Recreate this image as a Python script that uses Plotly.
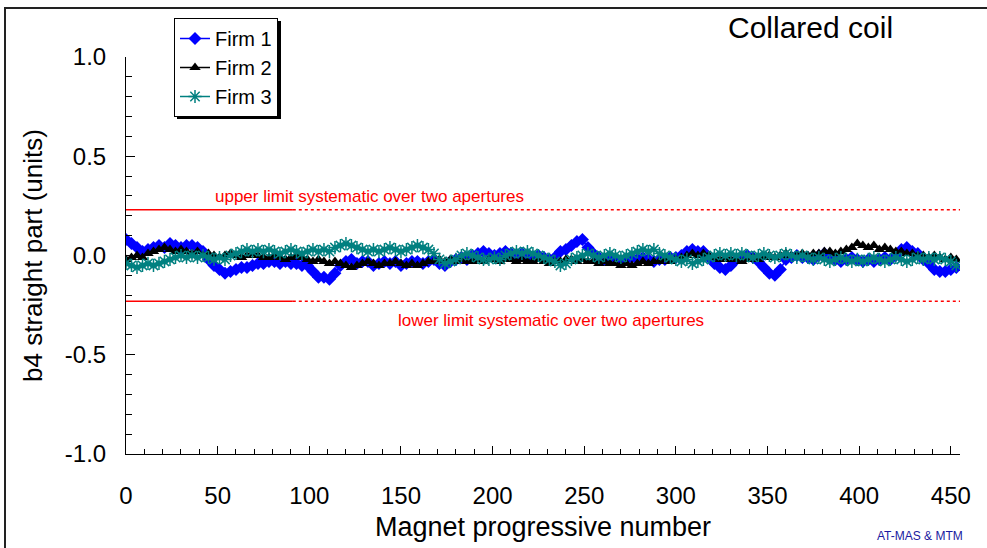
import plotly.graph_objects as go

# ---------------- data ----------------
step = 3
firm1 = [0.08, 0.06, 0.04, 0.02, 0.03, 0.04, 0.05, 0.04, 0.06, 0.05, 0.04, 0.05, 0.05, 0.04, 0.02,
         -0.02, -0.05, -0.07, -0.09, -0.08, -0.07, -0.06, -0.06, -0.05, -0.04, -0.04, -0.03, -0.03,
         -0.04, -0.03, -0.04, -0.04, -0.05, -0.05, -0.08, -0.11, -0.11, -0.12, -0.09, -0.05, -0.03,
         -0.02, -0.04, -0.03, -0.03, -0.05, -0.04, -0.03, -0.04, -0.03, -0.05, -0.04, -0.03, -0.03,
         -0.04, -0.03, -0.02, -0.04, -0.05, -0.03, -0.02, -0.01, -0.02, 0.0, 0.01, 0.02, 0.01, 0.0,
         0.01, 0.02, 0.01, 0.0, 0.01, 0.0, -0.01, 0.0, -0.01, -0.02, -0.01, 0.02, 0.03, 0.05, 0.07,
         0.08, 0.04, 0.01, -0.01, -0.02, -0.01, -0.02, -0.03, -0.02, -0.01, -0.02, -0.01, -0.02,
         -0.03, -0.02, -0.02, -0.01, -0.01, 0.0, 0.02, 0.03, 0.02, 0.02, -0.01, -0.04, -0.06, -0.07,
         -0.05, -0.02, -0.01, 0.0, -0.01, -0.03, -0.06, -0.09, -0.1, -0.07, -0.02, -0.01, 0.0, -0.01,
         -0.01, -0.02, 0.0, 0.01, -0.01, -0.02, -0.03, -0.02, -0.01, -0.02, -0.03, -0.02, -0.03,
         -0.02, -0.01, -0.02, 0.0, 0.03, 0.04, 0.02, 0.01, -0.02, -0.04, -0.07, -0.08, -0.08, -0.07,
         -0.06]
firm2 = [-0.02, -0.01, 0.0, -0.01, 0.01, 0.02, 0.03, 0.04, 0.03, 0.02, 0.03, 0.02, 0.01, 0.02, 0.0,
         0.01, 0.0, -0.01, 0.0, 0.01, 0.0, -0.01, 0.0, 0.01, 0.0, -0.01, -0.01, 0.0, -0.01, -0.02,
         -0.01, 0.0, -0.01, -0.02, -0.03, -0.02, -0.03, -0.04, -0.03, -0.04, -0.05, -0.06, -0.05,
         -0.04, -0.03, -0.04, -0.05, -0.04, -0.04, -0.03, -0.04, -0.05, -0.04, -0.05, -0.04, -0.03,
         -0.03, -0.02, -0.03, -0.02, -0.03, -0.02, -0.03, -0.03, -0.02, -0.03, -0.02, -0.02, -0.03,
         -0.02, -0.02, -0.03, -0.02, -0.03, -0.03, -0.02, -0.03, -0.04, -0.03, -0.03, -0.02, -0.02,
         -0.03, -0.02, -0.03, -0.03, -0.04, -0.03, -0.04, -0.04, -0.05, -0.04, -0.05, -0.04, -0.03,
         -0.04, -0.03, -0.03, -0.02, -0.03, -0.02, -0.01, 0.0, 0.01, 0.0, 0.01, 0.0, -0.01, -0.02,
         -0.01, -0.02, -0.02, -0.03, -0.02, -0.01, -0.02, -0.01, 0.0, -0.01, 0.0, 0.01, 0.0, 0.0,
         0.01, 0.0, 0.01, 0.01, 0.02, 0.02, 0.01, 0.02, 0.03, 0.04, 0.06, 0.05, 0.04, 0.05, 0.03,
         0.04, 0.03, 0.02, 0.02, 0.01, 0.01, 0.0, 0.0, -0.01, 0.0, -0.01, -0.02, -0.01, -0.02]
firm3 = [-0.04, -0.05, -0.06, -0.05, -0.04, -0.05, -0.04, -0.03, -0.02, -0.01, 0.0, -0.01, 0.0,
         -0.01, 0.0, -0.01, -0.02, -0.01, -0.02, 0.0, 0.01, 0.02, 0.03, 0.02, 0.03, 0.02, 0.03, 0.02,
         0.01, 0.02, 0.03, 0.02, 0.01, 0.02, 0.03, 0.02, 0.03, 0.02, 0.04, 0.05, 0.06, 0.05, 0.04,
         0.03, 0.02, 0.03, 0.02, 0.03, 0.04, 0.03, 0.02, 0.03, 0.04, 0.05, 0.04, 0.03, 0.01, -0.02,
         -0.04, -0.03, -0.02, 0.0, 0.01, 0.0, -0.01, -0.02, -0.02, -0.01, -0.02, 0.0, 0.01, 0.02,
         0.01, 0.02, 0.01, 0.0, -0.01, -0.02, -0.03, -0.05, -0.04, -0.02, -0.01, 0.0, 0.01, 0.0,
         -0.01, 0.0, 0.01, 0.0, -0.01, 0.0, 0.01, 0.02, 0.03, 0.02, 0.03, 0.01, 0.0, -0.01, -0.02,
         -0.03, -0.02, -0.04, -0.03, -0.02, -0.01, 0.0, 0.01, 0.0, 0.01, 0.0, 0.01, 0.0, -0.01, 0.0,
         0.01, 0.0, -0.01, 0.0, 0.01, 0.0, -0.01, 0.0, -0.01, -0.02, -0.01, -0.02, -0.03, -0.02,
         -0.01, -0.02, -0.03, -0.02, -0.03, -0.02, -0.01, -0.02, -0.03, -0.02, -0.01, -0.02, -0.03,
         -0.02, -0.01, -0.02, -0.01, -0.02, -0.01, -0.02, -0.03, -0.05]

upper_limit = 0.23
lower_limit = -0.23
limit_solid_end = 91
x_max = 455

x_ticks = [0, 50, 100, 150, 200, 250, 300, 350, 400, 450]
y_ticks = [-1.0, -0.5, 0.0, 0.5, 1.0]
y_tick_text = ["-1.0", "-0.5", "0.0", "0.5", "1.0"]

FONT = "Arial, Liberation Sans, sans-serif"

fig = go.Figure()


def mags(vals):
    return [step * i for i in range(len(vals))]


# limit lines
for lim in (upper_limit, lower_limit):
    fig.add_trace(go.Scatter(x=[0, limit_solid_end], y=[lim, lim], mode="lines",
                             line=dict(color="#ff0000", width=1.5), showlegend=False,
                             hoverinfo="skip"))
    fig.add_trace(go.Scatter(x=[limit_solid_end, x_max], y=[lim, lim], mode="lines",
                             line=dict(color="#ff0000", width=1.5, dash="dot"), showlegend=False,
                             hoverinfo="skip"))

fig.add_trace(go.Scatter(x=mags(firm1), y=firm1, name="Firm 1", mode="lines+markers",
                         line=dict(color="#0000ff", width=1.5),
                         marker=dict(symbol="diamond", size=10, color="#0000ff")))
fig.add_trace(go.Scatter(x=mags(firm2), y=firm2, name="Firm 2", mode="lines+markers",
                         line=dict(color="#000000", width=1.5),
                         marker=dict(symbol="triangle-up", size=10, color="#000000")))
fig.add_trace(go.Scatter(x=mags(firm3), y=firm3, name="Firm 3", mode="lines+markers",
                         line=dict(color="#008080", width=1.5),
                         marker=dict(symbol="asterisk-open", size=11,
                                     line=dict(color="#008080", width=1.5))))

# plot area: x 126..960 px, y 57..454 px
L, R, T, B = 126, 27, 57, 94
W, H = 987, 548
pw, ph = W - L - R, H - T - B


def px(xp):
    return (xp - L) / pw


def py(yp):
    return (H - B - yp) / ph


fig.update_layout(
    width=W, height=H,
    margin=dict(l=L, r=R, t=T, b=B),
    paper_bgcolor="white", plot_bgcolor="white",
    font=dict(family=FONT, color="black"),
    showlegend=True,
    legend=dict(x=px(174), y=py(18), xanchor="left", yanchor="top",
                bgcolor="white", bordercolor="black", borderwidth=1,
                font=dict(size=20, family=FONT), tracegroupgap=0,
                itemwidth=30),
    xaxis=dict(range=[0, x_max], tickvals=x_ticks, ticks="inside", ticklen=8,
               tickcolor="black", showline=True, linecolor="black", linewidth=1,
               showgrid=False, zeroline=False, tickfont=dict(size=24),
               ticklabelstandoff=20,
               minor=dict(dtick=10, ticks="inside", ticklen=5, tickcolor="black"),
               title=dict(text="Magnet progressive number", font=dict(size=27), standoff=9)),
    yaxis=dict(range=[-1, 1], tickvals=y_ticks, ticktext=y_tick_text, ticks="inside",
               ticklen=9, tickcolor="black", showline=True, linecolor="black", linewidth=1,
               showgrid=False, zeroline=False, tickfont=dict(size=24),
               ticklabelstandoff=14,
               minor=dict(dtick=0.1, ticks="inside", ticklen=6, tickcolor="black"),
               title=dict(text="b4 straight part (units)", font=dict(size=26), standoff=14)),
)

# frame around figure (top & left visible)
fig.add_shape(type="rect", xref="paper", yref="paper", x0=px(5), x1=px(1200), y0=py(700),
              y1=py(8), line=dict(color="#222222", width=2), fillcolor="rgba(0,0,0,0)")

# legend shadow (3 px offset)
fig.add_shape(type="rect", xref="paper", yref="paper", x0=px(177), x1=px(281), y0=py(119),
              y1=py(21), line=dict(width=0), fillcolor="black", layer="above")

fig.add_annotation(x=px(810), y=py(28), xref="paper", yref="paper", xanchor="center",
                   yanchor="middle", text="Collared coil",
                   showarrow=False, font=dict(size=30, family=FONT))
fig.add_annotation(x=px(920), y=py(536), xref="paper", yref="paper", xanchor="center",
                   yanchor="middle", text="AT-MAS &amp; MTM",
                   showarrow=False, font=dict(size=12, family=FONT, color="#1a1aa0"))
fig.add_annotation(x=133, y=upper_limit, xref="x", yref="y", yanchor="bottom", yshift=2,
                   text="upper limit systematic over two apertures", showarrow=False,
                   font=dict(size=17, family=FONT, color="#ff0000"))
fig.add_annotation(x=232, y=lower_limit, xref="x", yref="y", yanchor="top", yshift=-8,
                   text="lower limit systematic over two apertures", showarrow=False,
                   font=dict(size=17, family=FONT, color="#ff0000"))

fig.write_html("out.html")
